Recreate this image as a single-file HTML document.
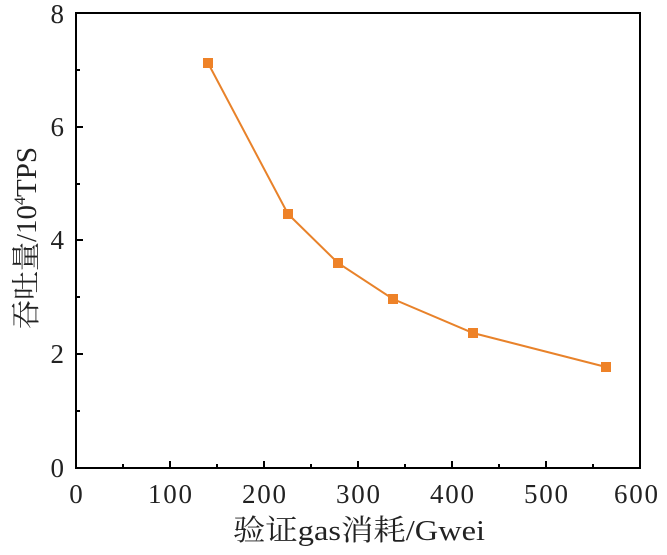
<!DOCTYPE html>
<html><head><meta charset="utf-8"><style>body{margin:0;background:#fff}</style></head><body>
<svg width="667" height="550" xmlns="http://www.w3.org/2000/svg" font-family="Liberation Serif, Noto Serif CJK SC, serif">
<rect x="76" y="13" width="564" height="455" fill="none" stroke="#000" stroke-width="2"/>
<g stroke="#000" stroke-width="2">
<line x1="170" y1="468" x2="170" y2="461"/><line x1="264" y1="468" x2="264" y2="461"/><line x1="358" y1="468" x2="358" y2="461"/><line x1="452" y1="468" x2="452" y2="461"/><line x1="546" y1="468" x2="546" y2="461"/>
<line x1="123" y1="468" x2="123" y2="464"/><line x1="217" y1="468" x2="217" y2="464"/><line x1="311" y1="468" x2="311" y2="464"/><line x1="405" y1="468" x2="405" y2="464"/><line x1="499" y1="468" x2="499" y2="464"/><line x1="593" y1="468" x2="593" y2="464"/>
<line x1="76" y1="354" x2="83" y2="354"/><line x1="76" y1="240" x2="83" y2="240"/><line x1="76" y1="127" x2="83" y2="127"/>
<line x1="76" y1="411" x2="80" y2="411"/><line x1="76" y1="297" x2="80" y2="297"/><line x1="76" y1="184" x2="80" y2="184"/><line x1="76" y1="70" x2="80" y2="70"/>
</g>
<g font-size="27" fill="#222" text-anchor="middle">
<text x="76" y="503">0</text><text x="170" y="503" textLength="44">100</text><text x="264" y="503" textLength="44">200</text><text x="358" y="503" textLength="44">300</text><text x="452" y="503" textLength="44">400</text><text x="546" y="503" textLength="44">500</text><text x="636" y="503" textLength="44">600</text>
</g>
<g font-size="27" fill="#222" text-anchor="end">
<text x="64" y="477">0</text><text x="64" y="363">2</text><text x="64" y="249">4</text><text x="64" y="136">6</text><text x="64" y="23">8</text>
</g>
<text x="233" y="540" font-size="29" textLength="252" lengthAdjust="spacingAndGlyphs" fill="#222">验证gas消耗/Gwei</text>
<text transform="translate(36,238) rotate(-90)" font-size="29" text-anchor="middle" fill="#222">吞吐量/10<tspan font-size="16" dy="-11">4</tspan><tspan dy="11">TPS</tspan></text>
<polyline fill="none" stroke="#e8822a" stroke-width="2" points="208,63 288,214 338,263 393,299 473,333 606,367"/>
<g fill="#ee8228">
<rect x="203" y="58" width="10" height="10"/><rect x="283" y="209" width="10" height="10"/><rect x="333" y="258" width="10" height="10"/><rect x="388" y="294" width="10" height="10"/><rect x="468" y="328" width="10" height="10"/><rect x="601" y="362" width="10" height="10"/>
</g>
</svg>
</body></html>
